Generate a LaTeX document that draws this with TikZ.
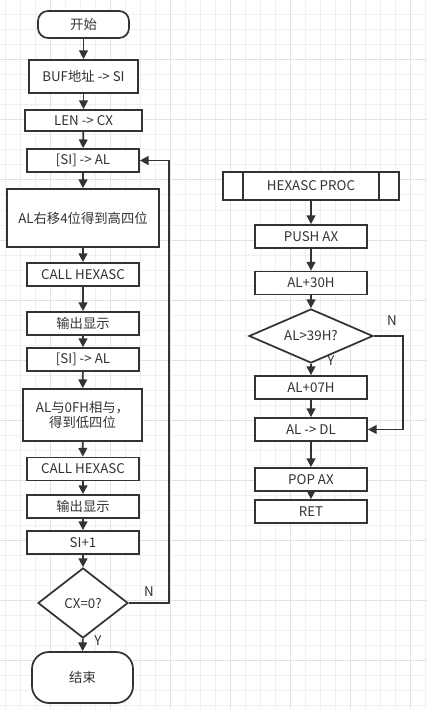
\documentclass[tikz,border=0pt]{standalone}
\usepackage{fontspec}
\setmainfont{Noto Sans CJK SC}
\usetikzlibrary{shapes.geometric, arrows.meta}

\definecolor{linegray}{RGB}{51,51,51}
\definecolor{textgray}{RGB}{51,51,51}
\definecolor{gridminor}{RGB}{240,240,240}
\definecolor{gridmajor}{RGB}{226,226,226}

\tikzset{
  process/.style={rectangle, draw=linegray, fill=white, line width=1.3pt, inner sep=0pt,
    text=textgray, font=\fontsize{10}{11.5}\selectfont, align=center},
  terminal/.style={process, rounded corners=7.5pt},
  decision/.style={diamond, draw=linegray, fill=white, line width=1.3pt, inner sep=0pt,
    text=textgray, font=\fontsize{10}{11.5}\selectfont},
  flow/.style={draw=linegray, line width=1.3pt, -{Triangle[length=6.5pt,width=6.5pt]}},
  yn/.style={text=textgray, font=\fontsize{10}{11.5}\selectfont, inner sep=0.75pt}
}

\begin{document}
\begin{tikzpicture}[x=0.75pt,y=0.75pt,yscale=-1,xscale=1]
\useasboundingbox (0,0) rectangle (427,709);

%Grid
\fill[white] (0,0) rectangle (427,709);
\foreach \gx in {5,20,...,425} \draw[gridminor, line width=0.75pt] (\gx,0) -- (\gx,709);
\foreach \gy in {0,15,...,705} \draw[gridminor, line width=0.75pt] (0,\gy) -- (427,\gy);
\foreach \gx in {50,110,...,410} \draw[gridmajor, line width=0.75pt] (\gx,0) -- (\gx,709);
\foreach \gy in {0,60,...,660} \draw[gridmajor, line width=0.75pt] (0,\gy) -- (427,\gy);

% Main program
\node[terminal, minimum width=68.25pt, minimum height=20.25pt] (start) at (83.5,24.5) {开始};
\node[process, minimum width=81.75pt, minimum height=24.75pt] (bufsi) at (83.5,76.5) {BUF地址 -> SI};
\node[process, minimum width=87.75pt, minimum height=15.75pt] (lencx) at (83.5,120.5) {LEN -> CX};
\node[process, minimum width=84pt, minimum height=17.25pt] (sial) at (83,160.5) {[SI] -> AL};
\node[process, minimum width=114pt, minimum height=43.5pt] (shr) at (83,218) {AL右移4位得到高四位};
\node[process, minimum width=84pt, minimum height=17.25pt] (callA) at (83,274.5) {CALL HEXASC};
\node[process, minimum width=84pt, minimum height=17.25pt] (showA) at (83,323.5) {输出显示};
\node[process, minimum width=84pt, minimum height=17.25pt] (sialB) at (83,359.5) {[SI] -> AL};
\node[process, minimum width=89.25pt, minimum height=39pt] (andal) at (82.5,415) {AL与0FH相与，\\得到低四位};
\node[process, minimum width=84pt, minimum height=17.25pt] (callB) at (83,469) {CALL HEXASC};
\node[process, minimum width=84pt, minimum height=17.25pt] (showB) at (83,506.5) {输出显示};
\node[process, minimum width=84pt, minimum height=17.25pt] (siinc) at (83,542.5) {SI+1};
\node[decision, minimum width=67.5pt, minimum height=52.5pt, aspect=1.29] (cxzero) at (83,603) {CX=0?};
\node[terminal, rounded corners=12.75pt, minimum width=75.75pt, minimum height=38.25pt] (finish) at (82.5,677.5) {结束};

\draw[flow] (start) -- (bufsi);
\draw[flow] (bufsi) -- (lencx);
\draw[flow] (lencx) -- (sial);
\draw[flow] (sial) -- (shr);
\draw[flow] (shr) -- (callA);
\draw[flow] (callA) -- (showA);
\draw[flow] (showA) -- (sialB);
\draw[flow] (sialB) -- (andal);
\draw[flow] (andal) -- (callB);
\draw[flow] (callB) -- (showB);
\draw[flow] (showB) -- (siinc);
\draw[flow] (siinc) -- (cxzero);
\draw[flow] (cxzero) -- (finish);
\coordinate (loopcorner) at (169,603);
\draw[flow] (cxzero.east) -- (loopcorner) |- (sial.east);

\node[yn] (nleft) at (149,592) {N};
\node[yn] (yleft) at (98,641) {Y};

% Subroutine HEXASC
\node[process, minimum width=132pt, minimum height=21pt] (hexproc) at (311,186) {HEXASC PROC};
\draw[linegray, line width=1.3pt] ([xshift=15.75pt]hexproc.north west) -- ([xshift=15.75pt]hexproc.south west);
\draw[linegray, line width=1.3pt] ([xshift=-15.75pt]hexproc.north east) -- ([xshift=-15.75pt]hexproc.south east);
\node[process, minimum width=84pt, minimum height=17.25pt] (pushax) at (311,236.5) {PUSH AX};
\node[process, minimum width=84pt, minimum height=17.25pt] (addthirty) at (311,283) {AL+30H};
\node[decision, minimum width=93pt, minimum height=40.5pt, aspect=2.3] (cmp) at (311,336) {AL>39H?};
\node[process, minimum width=84pt, minimum height=17.25pt] (addseven) at (311,387.5) {AL+07H};
\node[process, minimum width=84pt, minimum height=17.25pt] (aldl) at (311,429.5) {AL -> DL};
\node[process, minimum width=84pt, minimum height=17.25pt] (popax) at (311,479.5) {POP AX};
\node[process, minimum width=84pt, minimum height=17.25pt] (ret) at (311,511.5) {RET};

\draw[flow] (hexproc) -- (pushax);
\draw[flow] (pushax) -- (addthirty);
\draw[flow] (addthirty) -- (cmp);
\draw[flow] (cmp) -- (addseven);
\draw[flow] (addseven) -- (aldl);
\draw[flow] (aldl) -- (popax);
\draw[flow] (popax) -- (ret);
\coordinate (skipcorner) at (403,336);
\draw[flow] (cmp.east) -- (skipcorner) |- (aldl.east);

\node[yn] (nright) at (392,321) {N};
\node[yn] (yright) at (331,361) {Y};

\end{tikzpicture}
\end{document}
